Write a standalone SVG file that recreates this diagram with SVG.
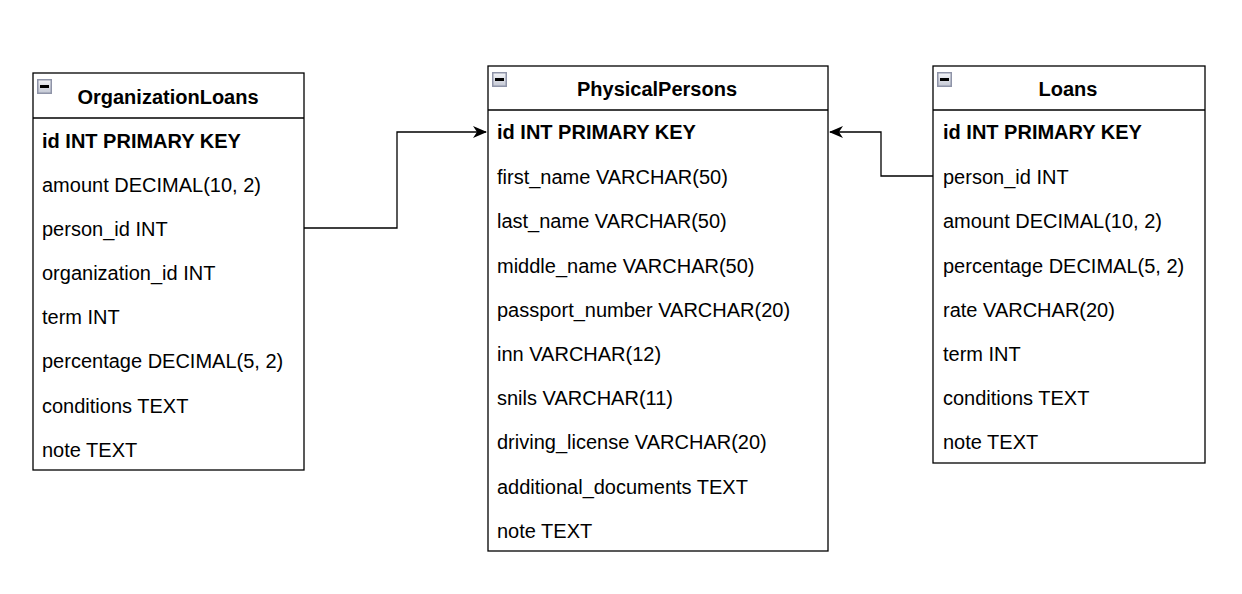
<svg xmlns="http://www.w3.org/2000/svg" width="1242" height="594" viewBox="0 0 1242 594">
<defs>
<linearGradient id="ig" x1="0" y1="0" x2="0" y2="1">
<stop offset="0" stop-color="#f4f5f8"/>
<stop offset="1" stop-color="#c4c8d4"/>
</linearGradient>
<marker id="arr" viewBox="0 0 14 12" refX="13" refY="6" markerWidth="14" markerHeight="12" markerUnits="userSpaceOnUse" orient="auto">
<path d="M0,0 L14,6 L0,12 L4,6 Z" fill="#000"/>
</marker>
<g id="icon">
<rect x="0.75" y="0.75" width="13.5" height="13.5" fill="url(#ig)" stroke="#8f94a8" stroke-width="1.5"/>
<rect x="3" y="6" width="9" height="3" fill="#000"/>
</g>
</defs>
<style>
.box{fill:#fff;stroke:#000;stroke-width:1.3}
.sep{stroke:#000;stroke-width:1.3}
.title{font-family:"Liberation Sans",Arial,sans-serif;font-size:20px;font-weight:bold;text-anchor:middle;fill:#000}
.pk{font-family:"Liberation Sans",Arial,sans-serif;font-size:20px;font-weight:bold;fill:#000}
.row{font-family:"Liberation Sans",Arial,sans-serif;font-size:20px;fill:#000}
.edge{fill:none;stroke:#000;stroke-width:1.3}
</style>
<rect width="1242" height="594" fill="#fff"/>
<g id="connectors">
<path class="edge" d="M304,228 H397 V132 H486" marker-end="url(#arr)"/>
<path class="edge" d="M933,176 H881 V132 H830" marker-end="url(#arr)"/>
</g>
<g id="OrganizationLoans">
<rect class="box" x="33" y="73" width="271" height="397"/>
<line class="sep" x1="33" y1="118" x2="304" y2="118"/>
<use href="#icon" x="37" y="79"/>
<text class="title" x="168" y="104">OrganizationLoans</text>
<text class="pk" x="42" y="148">id INT PRIMARY KEY</text>
<text class="row" x="42" y="192">amount DECIMAL(10, 2)</text>
<text class="row" x="42" y="236">person_id INT</text>
<text class="row" x="42" y="280">organization_id INT</text>
<text class="row" x="42" y="324">term INT</text>
<text class="row" x="42" y="368">percentage DECIMAL(5, 2)</text>
<text class="row" x="42" y="413">conditions TEXT</text>
<text class="row" x="42" y="457">note TEXT</text>
</g>
<g id="PhysicalPersons">
<rect class="box" x="488" y="66" width="340" height="485"/>
<line class="sep" x1="488" y1="110" x2="828" y2="110"/>
<use href="#icon" x="492" y="72"/>
<text class="title" x="657" y="96">PhysicalPersons</text>
<text class="pk" x="497" y="139">id INT PRIMARY KEY</text>
<text class="row" x="497" y="184">first_name VARCHAR(50)</text>
<text class="row" x="497" y="228">last_name VARCHAR(50)</text>
<text class="row" x="497" y="273">middle_name VARCHAR(50)</text>
<text class="row" x="497" y="317">passport_number VARCHAR(20)</text>
<text class="row" x="497" y="361">inn VARCHAR(12)</text>
<text class="row" x="497" y="405">snils VARCHAR(11)</text>
<text class="row" x="497" y="449">driving_license VARCHAR(20)</text>
<text class="row" x="497" y="494">additional_documents TEXT</text>
<text class="row" x="497" y="538">note TEXT</text>
</g>
<g id="Loans">
<rect class="box" x="933" y="66" width="272" height="397"/>
<line class="sep" x1="933" y1="110" x2="1205" y2="110"/>
<use href="#icon" x="937" y="72"/>
<text class="title" x="1068" y="96">Loans</text>
<text class="pk" x="943" y="139">id INT PRIMARY KEY</text>
<text class="row" x="943" y="184">person_id INT</text>
<text class="row" x="943" y="228">amount DECIMAL(10, 2)</text>
<text class="row" x="943" y="273">percentage DECIMAL(5, 2)</text>
<text class="row" x="943" y="317">rate VARCHAR(20)</text>
<text class="row" x="943" y="361">term INT</text>
<text class="row" x="943" y="405">conditions TEXT</text>
<text class="row" x="943" y="449">note TEXT</text>
</g>
</svg>
